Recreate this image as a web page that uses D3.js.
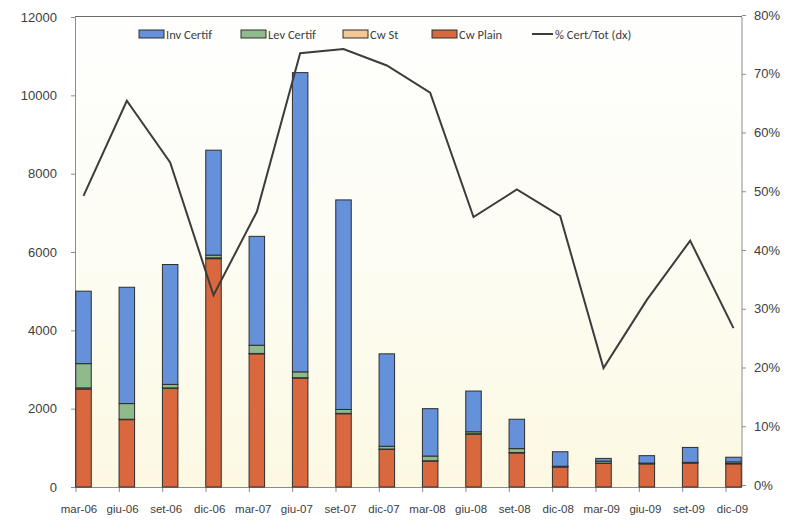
<!DOCTYPE html>
<html>
<head>
<meta charset="utf-8">
<script src="https://cdn.jsdelivr.net/npm/d3@7"></script>
<style>
  html, body { margin: 0; padding: 0; background: #ffffff; }
  svg { display: block; font-family: Carlito, Lato, "Open Sans", sans-serif; }
  .tick text { fill: #404040; }
</style>
</head>
<body>
<svg id="chart" width="804" height="531"></svg>
<script>
// Quarterly volumes by product type (stacked) and certificate share (right axis)
const categories = ["mar-06","giu-06","set-06","dic-06","mar-07","giu-07","set-07","dic-07",
                    "mar-08","giu-08","set-08","dic-08","mar-09","giu-09","set-09","dic-09"];
const cwPlain   = [2500, 1720, 2520, 5830, 3400, 2780, 1870, 960, 660, 1350, 870, 510, 600, 590, 610, 590];
const cwSt      = [30, 10, 10, 20, 10, 10, 10, 10, 10, 10, 10, 10, 10, 10, 10, 10];
const levCertif = [620, 400, 90, 70, 210, 150, 100, 70, 120, 50, 100, 10, 50, 10, 10, 40];
const invCertif = [1850, 2970, 3060, 2680, 2780, 7640, 5350, 2360, 1210, 1040, 750, 370, 70, 190, 380, 120];
const pctCertTot = [49.2, 65.4, 54.9, 32.3, 46.5, 73.5, 74.2, 71.4, 66.8, 45.6, 50.3, 45.8, 19.9, 31.5, 41.6, 26.7];

const leftTicks  = [0, 2000, 4000, 6000, 8000, 10000, 12000];
const rightTicks = [0, 10, 20, 30, 40, 50, 60, 70, 80];

const seriesKeys   = ["cwPlain", "cwSt", "levCertif", "invCertif"];
const seriesNames  = {invCertif: "Inv Certif", levCertif: "Lev Certif", cwSt: "Cw St", cwPlain: "Cw Plain"};
const seriesColors = {invCertif: "#6590da", levCertif: "#8fba8c", cwSt: "#f5c795", cwPlain: "#d9683f"};

const rows = categories.map((c, i) => ({
  cat: c, cwPlain: cwPlain[i], cwSt: cwSt[i], levCertif: levCertif[i], invCertif: invCertif[i], pct: pctCertTot[i]
}));

const plot = {left: 75, right: 742, top: 17, bottom: 487};
const svg = d3.select("#chart");

// plot-area background with a soft cream wash towards the bottom
const defs = svg.append("defs");
const grad = defs.append("linearGradient").attr("id", "bg").attr("x1", 0).attr("y1", 0).attr("x2", 0).attr("y2", 1);
grad.append("stop").attr("offset", "0%").attr("stop-color", "#fefefd");
grad.append("stop").attr("offset", "50%").attr("stop-color", "#fdfdf4");
grad.append("stop").attr("offset", "100%").attr("stop-color", "#fcf8e2");
svg.append("rect")
  .attr("x", plot.left).attr("y", plot.top)
  .attr("width", plot.right - plot.left).attr("height", plot.bottom - plot.top)
  .attr("fill", "url(#bg)");

const x = d3.scalePoint().domain(categories).range([83.5, 733.5]);
const xLabel = d3.scalePoint().domain(categories).range([78.5, 732]);
const barW = 15.5;
const y = d3.scaleLinear().domain([0, 12000]).range([plot.bottom, plot.top]);
const yR = d3.scaleLinear().domain([0, 80]).range([plot.bottom - 2, plot.top - 2]);

// top border
svg.append("line")
  .attr("x1", plot.left).attr("x2", plot.right)
  .attr("y1", plot.top - 0.5).attr("y2", plot.top - 0.5)
  .attr("stroke", "#6b6b6b").attr("stroke-width", 1.2);

// left axis
const gL = svg.append("g").attr("transform", `translate(${plot.left},0)`)
  .call(d3.axisLeft(y).tickValues(leftTicks).tickSize(4).tickPadding(14).tickFormat(d3.format("d")));
gL.select(".domain").attr("stroke", "#8c8c8c");
gL.selectAll(".tick line").attr("stroke", "#8c8c8c");
gL.selectAll(".tick text").attr("font-size", 13);

// right axis
const gR = svg.append("g").attr("transform", `translate(${plot.right},0)`)
  .call(d3.axisRight(yR).tickValues(rightTicks).tickSize(4).tickPadding(8).tickFormat(d => d + "%"));
gR.select(".domain").attr("stroke", "#8c8c8c").attr("d", `M0,${plot.top}V${plot.bottom}`);
gR.selectAll(".tick line").attr("stroke", "#8c8c8c");
gR.selectAll(".tick text").attr("font-size", 13);

// bottom axis: category labels
const gB = svg.append("g").attr("transform", `translate(0,${plot.bottom})`)
  .call(d3.axisBottom(xLabel).tickSize(0).tickPadding(18));
gB.select(".domain").remove();
gB.selectAll(".tick text").attr("font-size", 11.5);
svg.append("line")
  .attr("x1", plot.left).attr("x2", plot.right)
  .attr("y1", plot.bottom + 0.5).attr("y2", plot.bottom + 0.5)
  .attr("stroke", "#8c8c8c");
svg.append("g").selectAll("line").data(categories).join("line")
  .attr("x1", d => x(d) - 7.5).attr("x2", d => x(d) - 7.5)
  .attr("y1", plot.bottom).attr("y2", plot.bottom + 5)
  .attr("stroke", "#8c8c8c");

// stacked bars
const stacked = d3.stack().keys(seriesKeys)(rows);
svg.append("g").selectAll("g").data(stacked).join("g")
  .attr("fill", s => seriesColors[s.key])
  .selectAll("rect").data(s => s).join("rect")
  .attr("x", d => x(d.data.cat) - barW / 2)
  .attr("y", d => y(d[1]))
  .attr("width", barW)
  .attr("height", d => y(d[0]) - y(d[1]))
  .attr("stroke", "#2e2e2e").attr("stroke-width", 1);

// share line on right axis
svg.append("path").datum(rows)
  .attr("fill", "none").attr("stroke", "#3c3c3c").attr("stroke-width", 2)
  .attr("stroke-linejoin", "miter")
  .attr("d", d3.line().x(d => x(d.cat)).y(d => yR(d.pct)));

// legend
const legendItems = [
  {key: "invCertif", x: 139, type: "rect"},
  {key: "levCertif", x: 241, type: "rect"},
  {key: "cwSt", x: 343, type: "rect"},
  {key: "cwPlain", x: 432, type: "rect"},
  {key: "pct", x: 532, type: "line"}
];
const lg = svg.append("g").attr("font-size", 12.5).attr("fill", "#404040");
legendItems.forEach(it => {
  if (it.type === "rect") {
    lg.append("rect").attr("x", it.x).attr("y", 30).attr("width", 25).attr("height", 8)
      .attr("fill", seriesColors[it.key]).attr("stroke", "#2e2e2e").attr("stroke-width", 1);
    lg.append("text").attr("x", it.x + 27).attr("y", 38.5).text(seriesNames[it.key]);
  } else {
    lg.append("line").attr("x1", it.x).attr("x2", it.x + 21).attr("y1", 34).attr("y2", 34)
      .attr("stroke", "#3c3c3c").attr("stroke-width", 2);
    lg.append("text").attr("x", it.x + 23).attr("y", 38.5).text("% Cert/Tot (dx)");
  }
});
</script>
</body>
</html>
